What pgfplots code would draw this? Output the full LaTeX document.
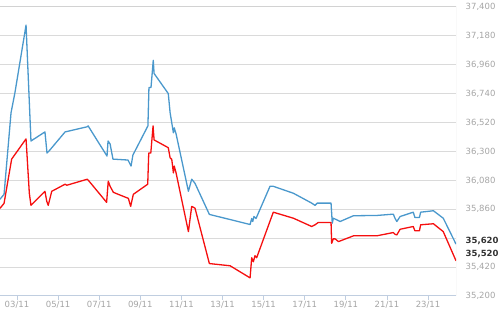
\documentclass[border=0pt]{standalone}
\usepackage{fontspec}
\setmainfont{DejaVu Sans}
\usepackage{pgfplots}
\pgfplotsset{compat=1.18}
\definecolor{lblue}{RGB}{74,152,204}
\definecolor{lred}{RGB}{245,15,15}
\definecolor{gridc}{RGB}{218,218,218}
\definecolor{labc}{RGB}{165,165,165}
\definecolor{axc}{RGB}{192,206,224}
\definecolor{bordc}{RGB}{210,210,210}
\begin{document}
\begin{tikzpicture}
\useasboundingbox (0pt,-16pt) rectangle (500pt,296pt);
\begin{axis}[
  at={(0pt,0pt)}, anchor=south west,
  width=456pt, height=289pt, scale only axis,
  xmin=2.173, xmax=24.36, ymin=35200, ymax=37400,
  axis line style={draw=none},
  xtick={3,5,7,9,11,13,15,17,19,21,23},
  xticklabels={03/11,05/11,07/11,09/11,11/11,13/11,15/11,17/11,19/11,21/11,23/11},
  xtick pos=left,
  tick align=outside,
  major tick length=4pt,
  xtick style={draw=axc, line width=0.8pt},
  ytick style={draw=none},
  ytick={35200,35420,35640,35860,36080,36300,36520,36740,36960,37180,37400},
  yticklabels={{35,200},{35,420},{},{35,860},{36,080},{36,300},{36,520},{36,740},{36,960},{37,180},{37,400}},
  yticklabel pos=right,
  ymajorgrids,
  grid style={gridc, line width=1pt},
  ticklabel style={font=\fontsize{8.5}{10}\selectfont, text=labc},
  xticklabel style={yshift=2pt},
  yticklabel style={anchor=west, inner sep=0.5pt, xshift=5pt},
  extra y ticks={35620,35520},
  extra y tick labels={{35,620},{35,520}},
  extra y tick style={grid=none, yticklabel style={text=black!80, font=\fontsize{8.5}{10}\selectfont\bfseries}},
  /pgf/number format/assume math mode=true,
  clip=true,
]
\addplot[lblue, line width=1.3pt, line join=round] coordinates {
(2.17,35936) (2.37,35974) (2.71,36595) (2.90,36748) (3.44,37262) (3.68,36380)
(4.36,36449) (4.46,36288) (4.56,36304) (5.34,36449) (6.41,36488) (6.46,36495)
(7.38,36265) (7.43,36380) (7.53,36357) (7.67,36242) (8.40,36235) (8.55,36189)
(8.64,36273) (9.37,36495) (9.42,36787) (9.52,36787) (9.63,36994) (9.67,36894)
(10.36,36741) (10.45,36595) (10.61,36442) (10.65,36480) (10.74,36434)
(11.34,35997) (11.50,36089) (11.66,36058) (12.36,35821) (13.37,35782)
(14.34,35744) (14.42,35790) (14.47,35767) (14.53,35805) (14.63,35790)
(15.31,36035) (15.47,36035) (16.45,35982) (17.34,35907) (17.50,35890)
(17.61,35907) (18.28,35907) (18.34,35754) (18.39,35792) (18.56,35780)
(18.72,35767) (19.37,35811) (20.50,35813) (21.31,35823) (21.39,35792)
(21.48,35767) (21.64,35805) (22.28,35838) (22.36,35798) (22.58,35798)
(22.64,35838) (23.26,35849) (23.74,35792) (24.36,35595)
};
\addplot[lred, line width=1.3pt, line join=round] coordinates {
(2.17,35867) (2.37,35905) (2.58,36097) (2.74,36242) (3.44,36396) (3.60,35982)
(3.68,35890) (4.36,35997) (4.45,35920) (4.52,35890) (4.69,35997) (5.34,36051)
(5.42,36043) (6.42,36089) (6.47,36081) (7.36,35913) (7.44,36074) (7.53,36035)
(7.69,35989) (8.42,35943) (8.53,35882) (8.66,35974) (9.36,36051) (9.41,36288)
(9.51,36288) (9.62,36495) (9.67,36388) (10.36,36329) (10.45,36252)
(10.53,36240) (10.61,36137) (10.65,36189) (10.74,36137) (11.34,35690)
(11.50,35882) (11.66,35869) (12.36,35447) (13.37,35430) (14.34,35338)
(14.42,35491) (14.50,35461) (14.58,35507) (14.66,35491) (15.47,35838)
(16.45,35792) (17.34,35729) (17.50,35742) (17.66,35760) (18.28,35760)
(18.31,35601) (18.39,35635) (18.48,35635) (18.64,35614) (19.37,35658)
(20.50,35658) (21.31,35683) (21.39,35670) (21.48,35665) (21.64,35708)
(22.28,35729) (22.36,35696) (22.58,35696) (22.64,35742) (23.26,35750)
(23.74,35690) (24.36,35468)
};
\draw[axc, line width=1pt] (rel axis cs:0,0) -- (rel axis cs:1,0);
\draw[bordc, line width=1pt] (rel axis cs:1,0) -- (rel axis cs:1,1) -- (rel axis cs:0,1);
\end{axis}
\end{tikzpicture}
\end{document}
